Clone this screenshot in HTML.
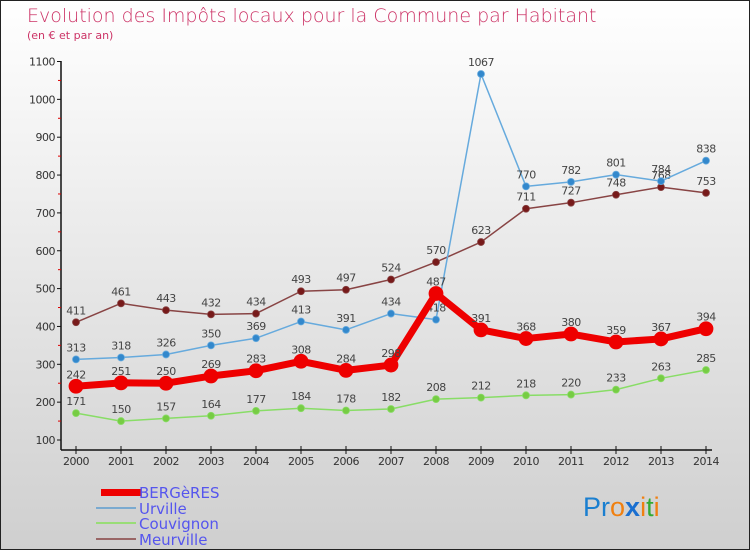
<!DOCTYPE html>
<html><head><meta charset="utf-8"><style>
body{margin:0;width:750px;height:550px;overflow:hidden}
svg{display:block;font-family:"DejaVu Sans","Liberation Sans",sans-serif}
</style></head><body>
<svg width="750" height="550">
<defs><linearGradient id="bg" x1="0" y1="0" x2="0" y2="1"><stop offset="0" stop-color="#ffffff"/><stop offset="1" stop-color="#cfcfcf"/></linearGradient></defs>
<rect x="0.5" y="0.5" width="749" height="549" fill="url(#bg)" stroke="#222"/>
<text x="27" y="22" font-size="19" fill="#cc3366" font-weight="300">Evolution des Impôts locaux pour la Commune par Habitant</text>
<text x="27" y="39" font-size="11" fill="#cc3366">(en € et par an)</text>
<g id="axes"></g><g id="series"></g>
<g>
<rect x="101" y="489" width="40" height="7" fill="#ee0000"/>
<text x="139" y="498" font-size="15" fill="#5555ee">BERGèRES</text>
<rect x="96" y="507" width="40" height="2" fill="#7aaad0"/>
<text x="139" y="514" font-size="15" fill="#5555ee">Urville</text>
<rect x="96" y="522" width="40" height="2" fill="#99dd77"/>
<text x="139" y="529" font-size="15" fill="#5555ee">Couvignon</text>
<rect x="96" y="538" width="40" height="2" fill="#996666"/>
<text x="139" y="545" font-size="15" fill="#5555ee">Meurville</text>
</g>
<text x="583" y="516" font-size="27" font-family="Liberation Sans"><tspan fill="#1a7fd0">Pr</tspan><tspan fill="#f08010">o</tspan><tspan fill="#1a6fd0" font-weight="bold">x</tspan><tspan fill="#f08010">i</tspan><tspan fill="#33aa33">t</tspan><tspan fill="#f08010">i</tspan></text>
</svg>
<script>
const years=["2000","2001","2002","2003","2004","2005","2006","2007","2008","2009","2010","2011","2012","2013","2014"];
const yTicks=[100,200,300,400,500,600,700,800,900,1000,1100];
const bergeres=[242,251,250,269,283,308,284,298,487,391,368,380,359,367,394];
const urville=[313,318,326,350,369,413,391,434,418,1067,770,782,801,784,838];
const couvignon=[171,150,157,164,177,184,178,182,208,212,218,220,233,263,285];
const meurville=[411,461,443,432,434,493,497,524,570,623,711,727,748,768,753];
const NS="http://www.w3.org/2000/svg";
function xs(i){return 76+i*45;}
function ys(v){return 440-(v-100)*0.3785;}
function mk(t,a,p){const e=document.createElementNS(NS,t);for(const k in a)e.setAttribute(k,a[k]);p.appendChild(e);return e;}
const ax=document.getElementById('axes');
let l=mk('line',{x1:61,y1:61,x2:61,y2:450,stroke:'#111','stroke-width':1.5},ax);

l=mk('line',{x1:61,y1:450,x2:712,y2:450,stroke:'#111','stroke-width':1.5},ax);

yTicks.forEach((v,i)=>{mk('line',{x1:57,y1:ys(v),x2:61,y2:ys(v),stroke:'#111'},ax);
 if(i<yTicks.length-1)mk('line',{x1:58,y1:ys(v+50),x2:61,y2:ys(v+50),stroke:'#d00'},ax);
 const t=mk('text',{x:55,y:ys(v)+4,'font-size':11,'text-anchor':'end',fill:'#333','letter-spacing':'-0.5'},ax);t.textContent=v;
 });
years.forEach((y,i)=>{mk('line',{x1:xs(i),y1:446,x2:xs(i),y2:454,stroke:'#111'},ax);
 const t=mk('text',{x:xs(i),y:465,'font-size':11,'text-anchor':'middle',fill:'#333','letter-spacing':'-0.5'},ax);t.textContent=y;
 });
const sg=document.getElementById('series');
function draw(name,data,col,dot,w,r){
 const g=mk('g',{},sg);
 const p=mk('polyline',{points:data.map((v,i)=>xs(i)+','+ys(v)).join(' '),fill:'none',stroke:col,'stroke-width':w,'stroke-linejoin':'round'},g);
 
 data.forEach((v,i)=>{const c=mk('circle',{cx:xs(i),cy:ys(v),r:r,fill:dot,stroke:col,'stroke-width':0.8},g);
  
  const t=mk('text',{x:xs(i),y:ys(v)-8,'font-size':11,'text-anchor':'middle',fill:'#444','letter-spacing':'-0.5'},g);t.textContent=v;
  });
}
draw('couvignon',couvignon,'#88dd66','#77cc44',1.5,3.5);
draw('meurville',meurville,'#884444','#771a1a',1.5,3.5);
draw('urville',urville,'#66aadd','#3388cc',1.5,3.5);
draw('bergeres',bergeres,'#ee0000','#ee0000',7,7);
</script>
</body></html>
